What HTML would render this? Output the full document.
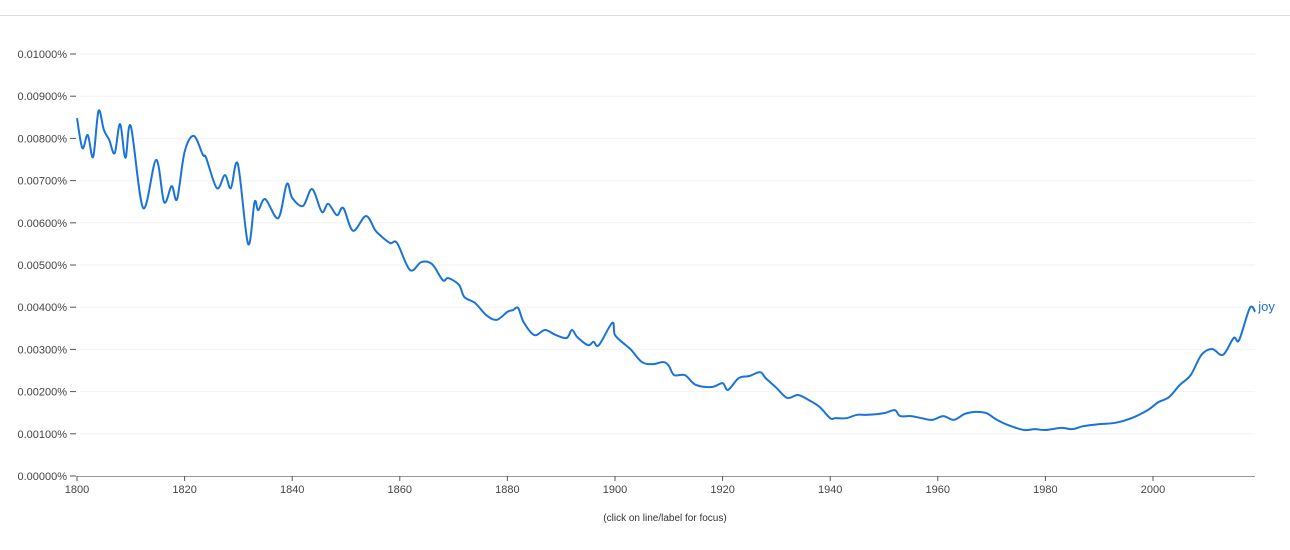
<!DOCTYPE html>
<html><head><meta charset="utf-8"><style>
body{margin:0;background:#fff;font-family:"Liberation Sans",Arial,sans-serif}
svg text{font-family:"Liberation Sans",Arial,sans-serif}
</style></head><body>
<svg id="chart" width="1290" height="545" xmlns="http://www.w3.org/2000/svg">
<line x1="0" y1="15.5" x2="1290" y2="15.5" stroke="#ddd"/>
<g id="grid"></g><g id="yaxis"></g><g id="xaxis"></g><g id="series"></g>
<text x="665" y="521" font-size="10" fill="#333" text-anchor="middle">(click on line/label for focus)</text>
</svg>
<script>
const years=[1800,1801,1802,1803,1804,1805,1806,1807,1808,1809,1810,1812.3,1814.7,1816.2,1817.6,1818.6,1820,1821.7,1823.4,1824,1826,1827.5,1828.6,1829.9,1831.8,1833,1833.7,1835,1837.4,1839,1840,1842,1843.7,1845.5,1846.7,1848.3,1849.5,1851.3,1853.7,1855.4,1856.3,1858.2,1859.5,1861.9,1864,1866,1868,1869,1871,1872,1874,1876,1878,1880,1881,1882,1883,1885,1887,1889,1891,1892,1893,1895,1896,1897,1899.5,1900,1902,1903,1905,1907,1909,1910,1911,1913,1915,1918,1920,1921,1923,1925,1927,1928,1930,1932,1934,1936,1938,1940,1941,1943,1945,1947,1950,1952,1953,1955,1957,1959,1961,1963,1965,1967,1969,1971,1973,1976,1978,1980,1983,1985,1987,1990,1993,1996,1999,2001,2003,2005,2007,2009,2011,2013,2015,2016,2018,2019];
// values in units of 0.001%
const joyValues=[8.48,7.77,8.08,7.56,8.65,8.20,7.96,7.65,8.34,7.54,8.29,6.35,7.49,6.49,6.87,6.56,7.68,8.06,7.61,7.54,6.82,7.13,6.82,7.39,5.50,6.49,6.30,6.56,6.11,6.92,6.59,6.40,6.80,6.26,6.45,6.18,6.35,5.81,6.16,5.83,5.71,5.52,5.52,4.88,5.07,5.02,4.64,4.69,4.53,4.24,4.10,3.82,3.70,3.89,3.93,3.98,3.65,3.34,3.46,3.34,3.27,3.46,3.29,3.10,3.18,3.10,3.63,3.34,3.10,2.99,2.70,2.65,2.70,2.61,2.39,2.39,2.16,2.11,2.20,2.04,2.32,2.37,2.46,2.32,2.09,1.85,1.92,1.80,1.64,1.37,1.37,1.37,1.45,1.45,1.49,1.56,1.42,1.42,1.37,1.33,1.42,1.33,1.47,1.52,1.49,1.33,1.21,1.09,1.11,1.09,1.14,1.11,1.18,1.23,1.26,1.37,1.56,1.75,1.87,2.16,2.39,2.87,3.01,2.87,3.27,3.22,3.98,3.89];
const yTicks=[0,1,2,3,4,5,6,7,8,9,10];
const yTickLabels=["0.00000%","0.00100%","0.00200%","0.00300%","0.00400%","0.00500%","0.00600%","0.00700%","0.00800%","0.00900%","0.01000%"];
const xTicks=[1800,1820,1840,1860,1880,1900,1920,1940,1960,1980,2000];
const seriesName="joy";
const NS="http://www.w3.org/2000/svg";
const X=y=>77+(y-1800)*(1076/200);
const Y=v=>476-v*42.2;
function mk(tag,attrs,parent,txt){const e=document.createElementNS(NS,tag);for(const k in attrs)e.setAttribute(k,attrs[k]);if(txt!==undefined)e.textContent=txt;parent.appendChild(e);return e;}
const grid=document.getElementById('grid'),ya=document.getElementById('yaxis'),xa=document.getElementById('xaxis'),sr=document.getElementById('series');
yTicks.forEach((t,i)=>{
 if(t>0){const g=mk('line',{x1:80,x2:1255,y1:Y(t),y2:Y(t),stroke:'#f2f2f2'},grid);
 
 }
 const tk=mk('line',{x1:70,x2:76,y1:Y(t),y2:Y(t),stroke:'#555'},ya);
 
 
 const lb=mk('text',{x:67,y:Y(t)+4,'font-size':11,fill:'#444','text-anchor':'end'},ya,yTickLabels[i]);
 
 
});
const ax=mk('line',{x1:77,x2:1255,y1:476.5,y2:476.5,stroke:'#999'},xa);


xTicks.forEach(t=>{
 const tk=mk('line',{x1:X(t),x2:X(t),y1:476,y2:481,stroke:'#555'},xa);
 
 
 const lb=mk('text',{x:X(t),y:493,'font-size':11,fill:'#444','text-anchor':'middle'},xa,String(t));
 
 
});
const pts=years.map((y,i)=>[X(y),Y(joyValues[i])]);
let d='M'+pts[0][0]+','+pts[0][1];
for(let i=0;i<pts.length-1;i++){
 const p0=pts[Math.max(0,i-1)],p1=pts[i],p2=pts[i+1],p3=pts[Math.min(pts.length-1,i+2)];
 const c1=[p1[0]+(p2[0]-p0[0])/6,p1[1]+(p2[1]-p0[1])/6],c2=[p2[0]-(p3[0]-p1[0])/6,p2[1]-(p3[1]-p1[1])/6];
 d+=' C'+c1[0]+','+c1[1]+' '+c2[0]+','+c2[1]+' '+p2[0]+','+p2[1];
}
const line=mk('path',{d:d,fill:'none',stroke:'#1a73d9','stroke-width':2,'stroke-linejoin':'round'},sr);


const last=pts[pts.length-1];
const lab=mk('text',{x:last[0]+3,y:last[1]-1,'font-size':13,fill:'#1a73d9'},sr,seriesName);


</script>
</body></html>
